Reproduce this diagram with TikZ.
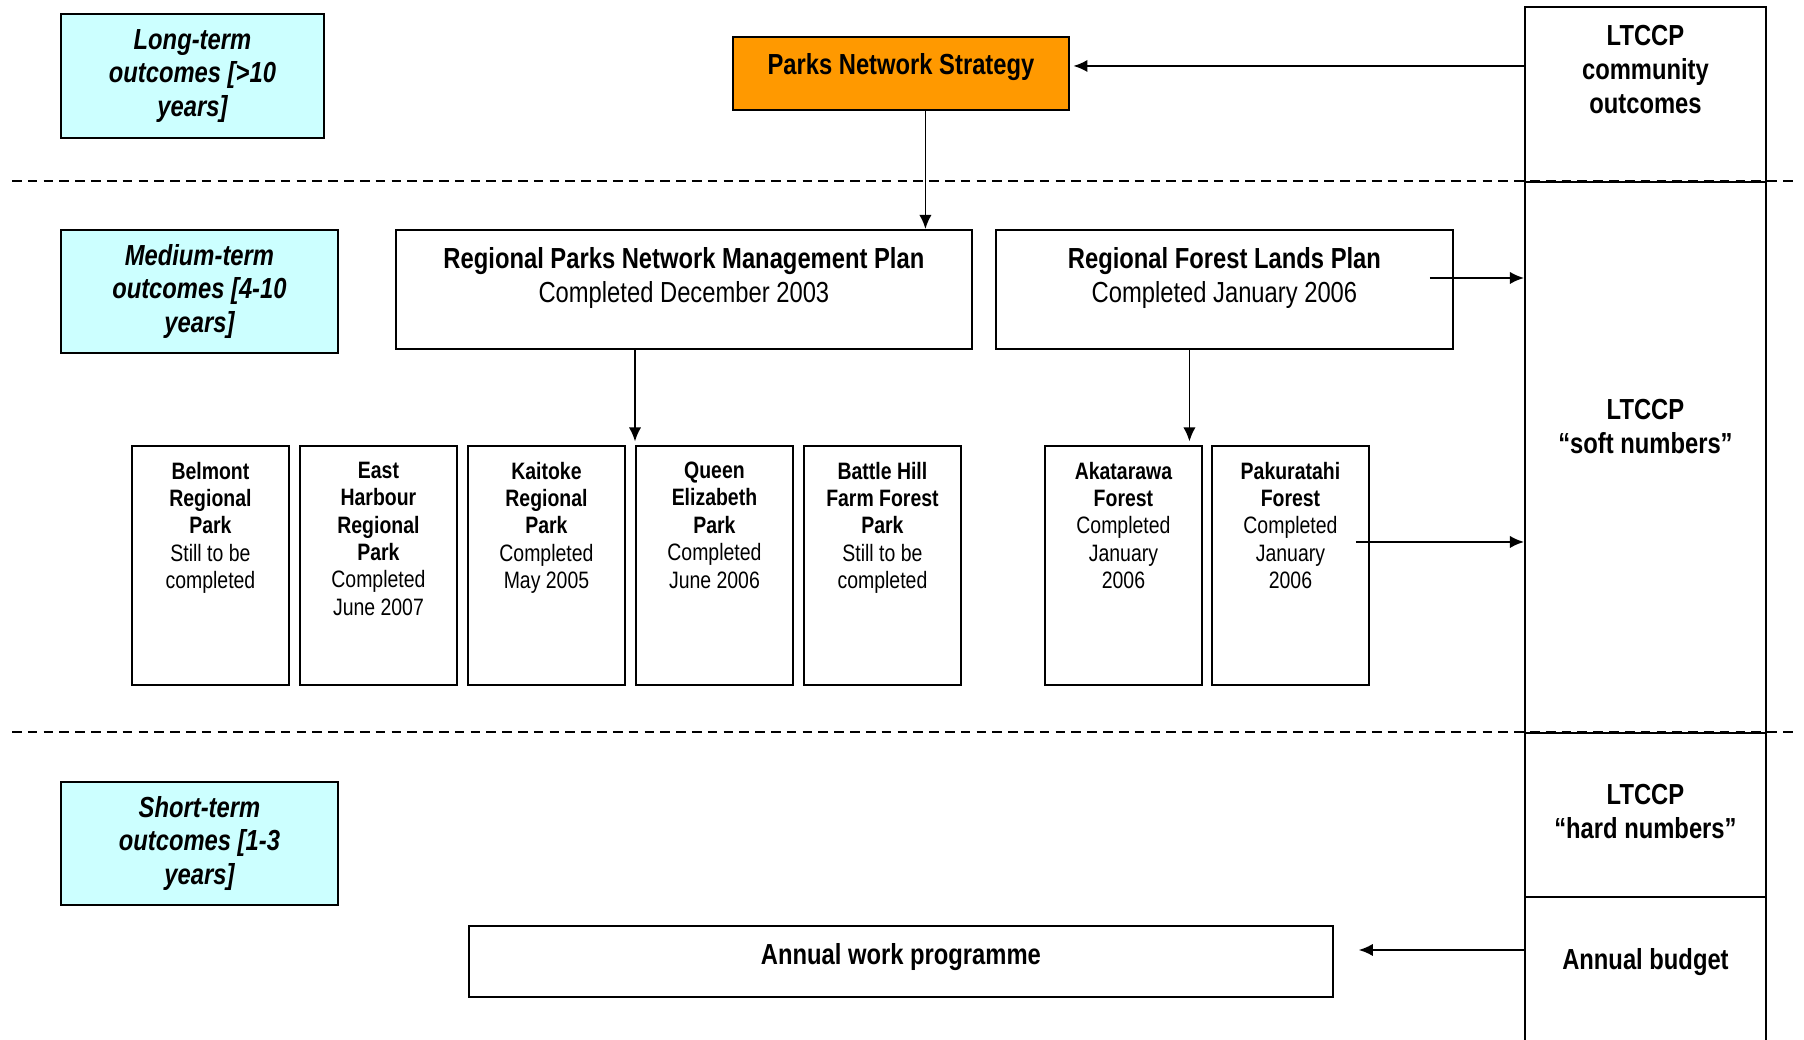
\documentclass[tikz,border=0pt]{standalone}
\usepackage{fontspec}
\setmainfont{Liberation Sans}[FakeStretch=0.82]
\usetikzlibrary{positioning, arrows.meta}
\definecolor{paleaqua}{HTML}{CCFFFF}
\definecolor{strategy}{HTML}{FF9900}
\newcommand{\bigtxt}{\fontsize{16.5}{19.3}\selectfont}
\newcommand{\smalltxt}{\fontsize{13.5}{15.6}\selectfont}

\begin{document}
\begin{tikzpicture}[x=0.02cm, y=-0.02cm, >={Latex[length=8pt, width=7pt]},
    outcome/.style={draw, line width=1.1pt, fill=paleaqua, anchor=north west, inner sep=0pt, align=flush center, font=\bigtxt\bfseries\itshape},
    plan/.style={draw, line width=1.1pt, anchor=north west, inner sep=0pt},
    site/.style={plan, minimum width=3.14cm, minimum height=4.78cm},
    column/.style={plan, minimum width=4.82cm},
    heading/.style={anchor=north, inner sep=0pt, align=flush center, font=\bigtxt},
    sitetext/.style={anchor=north, inner sep=0pt, align=flush center, text width=3cm, font=\smalltxt, yshift=-9.4pt},
    link/.style={->, line width=1.05pt},
    tier/.style={line width=0.8pt, dash pattern=on 5.5pt off 3.5pt}]
  \useasboundingbox (0,0) rectangle (1804,1039);

  \draw[tier] (12,181) -- (1797,181);
  \draw[tier] (12,732) -- (1797,732);

  \node[outcome, text width=5.26cm, minimum height=2.48cm] (long) at (60,13) {Long-term\\outcomes [>10\\years]};
  \node[outcome, text width=5.54cm, minimum height=2.46cm] (medium) at (60,229) {Medium-term\\outcomes [4-10\\years]};
  \node[outcome, text width=5.54cm, minimum height=2.46cm] (short) at (60,781) {Short-term\\outcomes [1-3\\years]};

  \node[plan, fill=strategy, minimum width=6.72cm, text height=0.76cm, text depth=0.70cm, font=\bigtxt\bfseries] (pns) at (732,36) {Parks Network Strategy};

  \node[plan, minimum width=11.52cm, minimum height=2.38cm,
    label={[heading, text width=11cm, yshift=-10.5pt]north:{\bfseries Regional Parks Network Management Plan}\\Completed December 2003}] (rpnmp) at (395,229) {};
  \node[plan, minimum width=9.14cm, minimum height=2.38cm,
    label={[heading, text width=9cm, yshift=-10.5pt]north:{\bfseries Regional Forest Lands Plan}\\Completed January 2006}] (rflp) at (995,229) {};

  \node[site, label={[sitetext]north:\bfseries Belmont\\Regional\\Park\\\mdseries Still to be\\completed}] (belmont) at (131,445) {};
  \node[site, label={[sitetext]north:\bfseries East\\Harbour\\Regional\\Park\\\mdseries Completed\\June 2007}] (eastharbour) at (299,445) {};
  \node[site, label={[sitetext]north:\bfseries Kaitoke\\Regional\\Park\\\mdseries Completed\\May 2005}] (kaitoke) at (467,445) {};
  \node[site, label={[sitetext]north:\bfseries Queen\\Elizabeth\\Park\\\mdseries Completed\\June 2006}] (queen) at (635,445) {};
  \node[site, label={[sitetext]north:\bfseries Battle Hill\\Farm Forest\\Park\\\mdseries Still to be\\completed}] (battlehill) at (803,445) {};
  \node[site, label={[sitetext]north:\bfseries Akatarawa\\Forest\\\mdseries Completed\\January\\2006}] (aka) at (1044,445) {};
  \node[site, label={[sitetext]north:\bfseries Pakuratahi\\Forest\\\mdseries Completed\\January\\2006}] (paku) at (1211,445) {};

  \node[plan, minimum width=17.28cm, text height=0.77cm, text depth=0.65cm, font=\bigtxt\bfseries] (awp) at (468,925) {Annual work programme};

  \node[column, minimum height=3.5cm,
    label={[heading, text width=4.6cm, yshift=-10.8pt, font=\bigtxt\bfseries]north:LTCCP\\community\\outcomes}] (co) at (1524,6) {};
  \node[column, minimum height=11.02cm,
    label={[heading, text width=4.6cm, yshift=-124pt, font=\bigtxt\bfseries]north:LTCCP\\``soft numbers''}] (soft) at (1524,181) {};
  \node[column, minimum height=3.28cm,
    label={[heading, text width=4.6cm, yshift=-29.3pt, font=\bigtxt\bfseries]north:LTCCP\\``hard numbers''}] (hard) at (1524,732) {};
  \node[column, text height=1.45cm, text depth=1.63cm, font=\bigtxt\bfseries] (budget) at (1524,896) {Annual budget};

  \coordinate (aka top) at ([xshift=1.32cm]aka.north);
  \coordinate (forest out) at ([xshift=-0.48cm, yshift=0.23cm]rflp.east);
  \coordinate (paku out) at ([xshift=-0.28cm, yshift=0.47cm]paku.east);
  \coordinate (work in) at ([xshift=0.5cm, yshift=0.23cm]awp.east);
  \coordinate (strat in) at ([xshift=2pt, yshift=0.15cm]pns.east);

  \draw[link] (strat in -| co.west) -- (strat in);
  \draw[link] ([xshift=0.49cm]pns.south) -- ([xshift=0.49cm]pns.south |- rpnmp.north);
  \draw[link, shorten >=2pt] (rpnmp.south -| queen.north west) -- (queen.north west);
  \draw[link, shorten >=2pt] (aka top |- rflp.south) -- (aka top);
  \draw[link] (forest out) -- (forest out -| soft.west);
  \draw[link] (paku out) -- (paku out -| soft.west);
  \draw[link] (work in -| budget.west) -- (work in);
\end{tikzpicture}
\end{document}
